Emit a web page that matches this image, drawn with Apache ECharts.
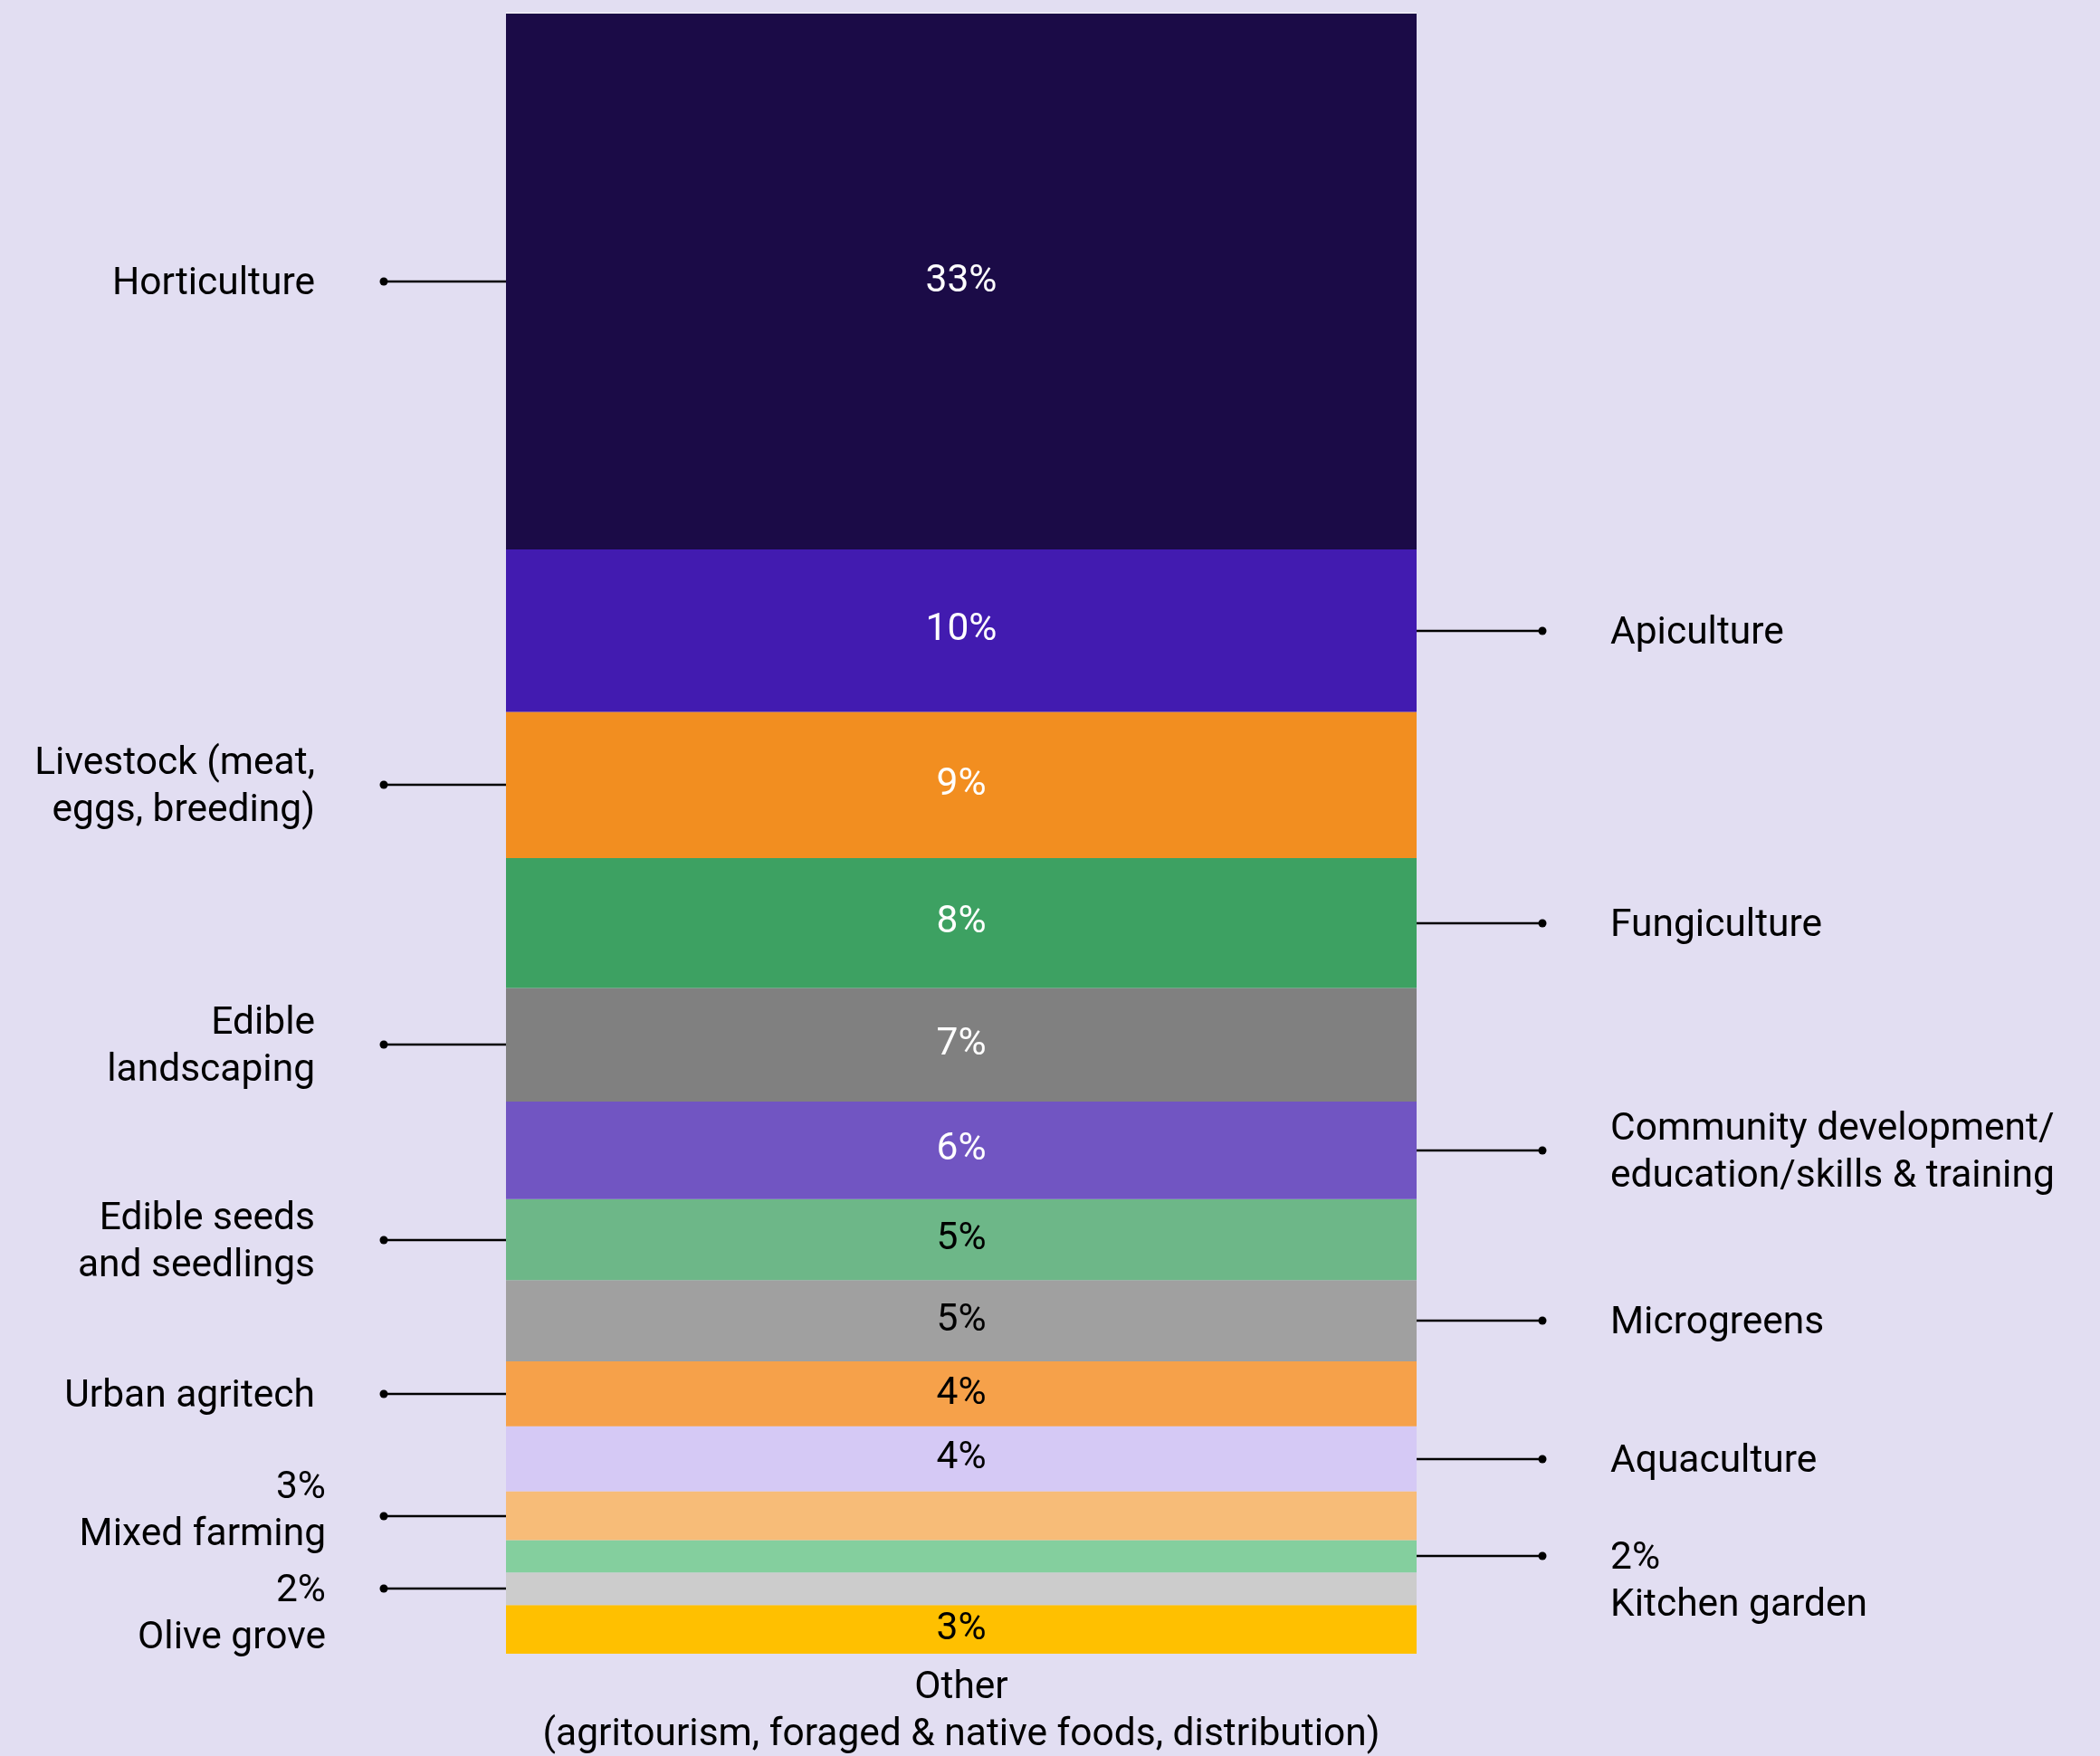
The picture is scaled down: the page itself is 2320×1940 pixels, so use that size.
<!DOCTYPE html>
<html>
<head>
<meta charset="utf-8">
<title>Enterprise types</title>
<script src="https://cdn.jsdelivr.net/npm/echarts@6/dist/echarts.min.js"></script>
<style>
  html, body { margin: 0; padding: 0; background: #E2DEF2; }
  #chart { width: 2320px; height: 1940px; }
</style>
</head>
<body>
<div id="chart"></div>
<script>
// Segments, listed from the top of the bar to the bottom
const segmentNames = [
  'Horticulture',
  'Apiculture',
  'Livestock (meat,\neggs, breeding)',
  'Fungiculture',
  'Edible\nlandscaping',
  'Community development/\neducation/skills & training',
  'Edible seeds\nand seedlings',
  'Microgreens',
  'Urban agritech',
  'Aquaculture',
  'Mixed farming',
  'Kitchen garden',
  'Olive grove',
  'Other'
];
const shares = [33, 10, 9, 8, 7, 6, 5, 5, 4, 4, 3, 2, 2, 3];
const otherNote = '(agritourism, foraged & native foods, distribution)';

// Look of each segment (same order as above)
const segmentColors = [
  '#1B0B47', '#421BB0', '#F28E20', '#3DA162', '#808080', '#7155C2', '#6DB788',
  '#A0A0A0', '#F6A14A', '#D5C9F5', '#F7BC78', '#84CF9E', '#CCCCCC', '#FFC000'
];
const valueTextColors = [
  '#FFFFFF', '#FFFFFF', '#FFFFFF', '#FFFFFF', '#FFFFFF', '#FFFFFF', '#000000',
  '#000000', '#000000', '#000000', '#000000', '#000000', '#000000', '#000000'
];
// Where the callout goes: L = left, R = right, '' = none (name under the bar)
const calloutSide = ['L', 'R', 'L', 'R', 'L', 'R', 'L', 'R', 'L', 'R', 'L', 'R', 'L', ''];
// Thin slices carry their share in the callout instead of inside the bar
const shareInCallout = [false, false, false, false, false, false, false, false, false, false, true, true, true, false];
// Vertical shift of the callout text block, px (for the stacked share/name callouts)
const calloutShift = [0, 0, 0, 0, 0, 0, 0, 0, 0, 0, -60, -26, -26, 0];
const calloutGapLeft = [76, 76, 76, 76, 76, 76, 76, 76, 76, 76, 64, 64, 64, 76];

const FONT = 'Roboto, "Noto Sans", sans-serif';
const FONT_SIZE = 42.5;
const LINE_H = 52;
const LEADER_LEFT = 135;
const LEADER_RIGHT = 139;
const TEXT_GAP_RIGHT = 75;
const TEXT_NUDGE = 3;

const total = shares.reduce((a, b) => a + b, 0);
const barCategory = ['Other\n' + otherNote];

// ECharts stacks upward, so build the series from the bottom segment up
const order = shares.map((_, i) => i).reverse();
const barSeries = order.map(i => ({
  name: segmentNames[i],
  type: 'bar',
  stack: 'all',
  barCategoryGap: '0%',
  barGap: '0%',
  data: [shares[i]],
  itemStyle: { color: segmentColors[i] },
  label: {
    show: !shareInCallout[i],
    position: 'inside',
    formatter: '{c}%',
    fontFamily: FONT,
    fontSize: FONT_SIZE,
    color: valueTextColors[i]
  },
  emphasis: { disabled: true },
  silent: true,
  z: 2
}));

// Cumulative extents of each segment (value space)
const calloutData = [];
{
  let top = total;
  shares.forEach((v, i) => {
    calloutData.push([0, top - v, top, i]);
    top -= v;
  });
}

const calloutSeries = {
  type: 'custom',
  coordinateSystem: 'cartesian2d',
  silent: true,
  z: 5,
  encode: { x: 0, y: [1, 2] },
  data: calloutData,
  renderItem: function (params, api) {
    const i = api.value(3);
    const side = calloutSide[i];
    if (!side) return null;
    const pLow = api.coord([api.value(0), api.value(1)]);
    const pHigh = api.coord([api.value(0), api.value(2)]);
    const halfW = api.size([1, 0])[0] / 2;
    const y = Math.round((pLow[1] + pHigh[1]) / 2);
    const edge = side === 'L' ? pLow[0] - halfW : pLow[0] + halfW;
    const dotX = side === 'L' ? edge - LEADER_LEFT : edge + LEADER_RIGHT;
    const label = shareInCallout[i]
      ? shares[i] + '%\n' + segmentNames[i]
      : segmentNames[i];
    const stacked = shareInCallout[i];
    return {
      type: 'group',
      children: [
        {
          type: 'line',
          shape: { x1: edge, y1: y, x2: dotX, y2: y },
          style: { stroke: '#000', lineWidth: 2.5 }
        },
        {
          type: 'circle',
          shape: { cx: dotX, cy: y, r: 4.5 },
          style: { fill: '#000' }
        },
        {
          type: 'text',
          style: {
            text: label,
            x: side === 'L' ? dotX - calloutGapLeft[i] : dotX + TEXT_GAP_RIGHT,
            y: y + calloutShift[i] + TEXT_NUDGE,
            align: side === 'L' ? 'right' : 'left',
            verticalAlign: stacked ? 'top' : 'middle',
            font: FONT_SIZE + 'px ' + FONT,
            lineHeight: LINE_H,
            fill: '#000'
          }
        }
      ]
    };
  }
};

const chart = echarts.init(document.getElementById('chart'), null, { renderer: 'canvas' });
chart.setOption({
  backgroundColor: '#E2DEF2',
  animation: false,
  grid: { left: 559, right: 755, top: 15, bottom: 113, outerBoundsMode: 'none', containLabel: false },
  xAxis: {
    type: 'category',
    data: barCategory,
    axisLine: { show: false },
    axisTick: { show: false },
    axisLabel: {
      margin: 12,
      fontFamily: FONT,
      fontSize: FONT_SIZE,
      lineHeight: LINE_H,
      color: '#000',
      interval: 0
    }
  },
  yAxis: {
    type: 'value',
    min: 0,
    max: total,
    interval: total,
    axisLabel: { show: false },
    axisLine: { show: false },
    axisTick: { show: false },
    splitLine: {
      show: true,
      showMinLine: false,
      lineStyle: { color: '#FFFFFF', width: 2 }
    }
  },
  series: barSeries.concat([calloutSeries])
});
</script>
</body>
</html>
